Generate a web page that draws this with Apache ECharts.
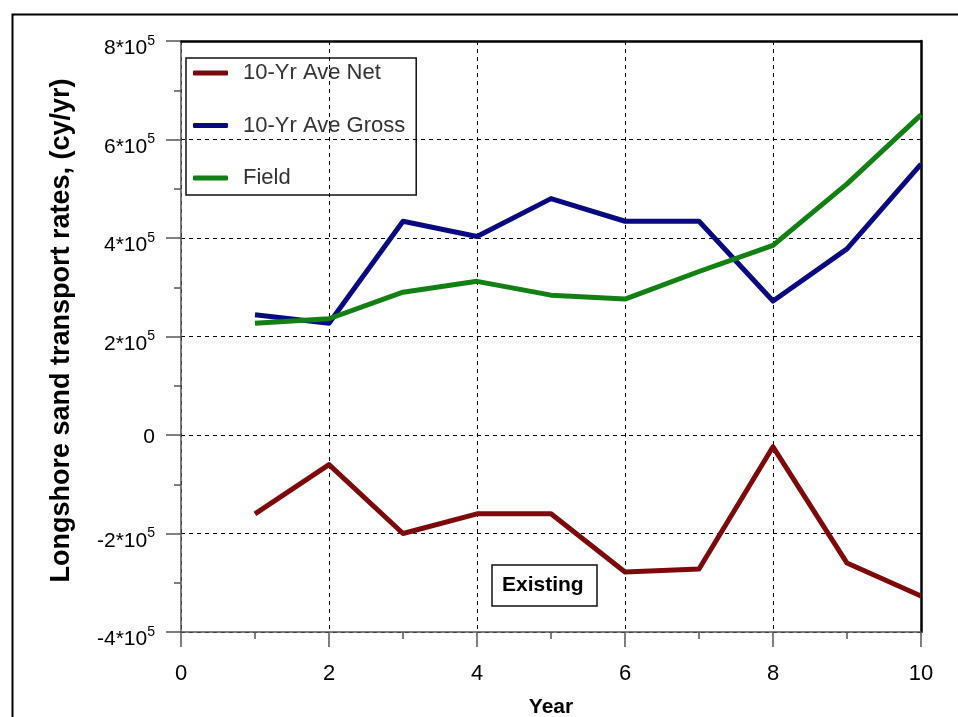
<!DOCTYPE html>
<html>
<head>
<meta charset="utf-8">
<script src="https://cdn.jsdelivr.net/npm/echarts@6/dist/echarts.min.js"></script>
<style>
  html, body { margin: 0; padding: 0; background: #fff; }
  #chart { width: 958px; height: 717px; }
</style>
</head>
<body>
<div id="chart"></div>
<script>
// ---- data ----
const years = [1, 2, 3, 4, 5, 6, 7, 8, 9, 10];
const netValues   = [-160000, -60000, -200000, -160000, -160000, -278000, -272000, -24000, -260000, -327000];
const grossValues = [244000, 227000, 434000, 403000, 480000, 434000, 434000, 272000, 378000, 550000];
const fieldValues = [227000, 236000, 290000, 312000, 284000, 276000, 332000, 385000, 510000, 650000];
const seriesNames = ['10-Yr Ave Net', '10-Yr Ave Gross', 'Field'];
const xTitle = 'Year';
const yTitle = 'Longshore sand transport rates, (cy/yr)';
const boxLabel = 'Existing';

const FONT = 'Arial, "Liberation Sans", Helvetica, sans-serif';
const pair = (xs, ys) => xs.map((x, i) => [x, ys[i]]);

function yLabel(v) {
  if (v === 0) return '{z|0}';
  return '{sp| }{b|' + (v / 1e5) + '*10}{sup|5}';
}

const chart = echarts.init(document.getElementById('chart'));
chart.setOption({
  animation: false,
  backgroundColor: '#fff',
  textStyle: { fontFamily: FONT },
  grid: { left: 181, right: 37, top: 41, bottom: 85, containLabel: false, outerBoundsMode: 'none' },
  graphic: [{
    type: 'rect', left: 10, top: 12, silent: true,
    shape: { width: 980, height: 740 },
    style: { fill: 'none', stroke: '#000', lineWidth: 2 }
  }],
  title: {
    text: boxLabel, left: 492, top: 565,
    padding: [10, 14, 10, 10],
    borderColor: '#111', borderWidth: 1.5,
    textStyle: { fontFamily: FONT, fontSize: 21, fontWeight: 'bold', color: '#000', lineHeight: 21 }
  },
  legend: {
    orient: 'vertical', left: 186, top: 58,
    padding: [3, 11, 5, 7],
    itemGap: 28.5, itemWidth: 35, itemHeight: 5,
    icon: 'roundRect',
    borderColor: '#111', borderWidth: 1.5,
    textStyle: { fontFamily: FONT, fontSize: 22, color: '#333', lineHeight: 24, padding: [0, 0, 0, 10] },
    data: seriesNames
  },
  xAxis: [{
    type: 'value', min: 0, max: 10, interval: 2,
    name: xTitle, nameLocation: 'middle', nameGap: 65,
    nameTextStyle: { fontFamily: FONT, fontSize: 21, fontWeight: 'bold', color: '#000' },
    axisLine: { onZero: false, lineStyle: { color: '#555', width: 1.5 } },
    axisTick: { show: true, length: 15, lineStyle: { color: '#555', width: 1.5 } },
    minorTick: { show: true, splitNumber: 2, length: 7, lineStyle: { color: '#555', width: 1.5 } },
    axisLabel: { margin: 31, fontFamily: FONT, fontSize: 22, color: '#000' },
    splitLine: { show: true, lineStyle: { color: '#000', type: [4, 4], width: 1 } }
  }, {
    type: 'value', min: 0, max: 10, position: 'top',
    axisLine: { show: true, onZero: false, lineStyle: { color: '#000', width: 2.5 } },
    axisTick: { show: false }, axisLabel: { show: false }, splitLine: { show: false }
  }],
  yAxis: [{
    type: 'value', min: -400000, max: 800000, interval: 200000,
    name: yTitle, nameLocation: 'middle', nameGap: 106,
    nameTextStyle: { fontFamily: FONT, fontSize: 27, fontWeight: 'bold', color: '#000', padding: [0, 0, 0, 12] },
    axisLine: { show: true, onZero: false, lineStyle: { color: '#555', width: 1.5 } },
    axisTick: { show: true, length: 15, lineStyle: { color: '#555', width: 1.5 } },
    minorTick: { show: true, splitNumber: 2, length: 7, lineStyle: { color: '#555', width: 1.5 } },
    axisLabel: {
      margin: 26, formatter: yLabel,
      rich: {
        sp: { fontFamily: FONT, fontSize: 1, lineHeight: 36 },
        z: { fontFamily: FONT, fontSize: 21, color: '#000', lineHeight: 18, padding: [4, 0, 0, 0] },
        b: { fontFamily: FONT, fontSize: 21, color: '#000', lineHeight: 18, verticalAlign: 'bottom' },
        sup: { fontFamily: FONT, fontSize: 14, color: '#000', lineHeight: 14, verticalAlign: 'middle' }
      }
    },
    splitLine: { show: true, lineStyle: { color: '#000', type: [4, 4], width: 1 } }
  }, {
    type: 'value', min: -400000, max: 800000, position: 'right',
    axisLine: { show: true, onZero: false, lineStyle: { color: '#000', width: 2.5 } },
    axisTick: { show: false }, axisLabel: { show: false }, splitLine: { show: false }
  }],
  series: [
    { name: seriesNames[0], type: 'line', data: pair(years, netValues), showSymbol: false, symbol: 'none',
      lineStyle: { color: '#7d0a0a', width: 5, join: 'round' }, itemStyle: { color: '#7d0a0a' }, z: 3 },
    { name: seriesNames[1], type: 'line', data: pair(years, grossValues), showSymbol: false, symbol: 'none',
      lineStyle: { color: '#0a0a80', width: 5, join: 'round' }, itemStyle: { color: '#0a0a80' }, z: 3 },
    { name: seriesNames[2], type: 'line', data: pair(years, fieldValues), showSymbol: false, symbol: 'none',
      lineStyle: { color: '#128012', width: 5, join: 'round' }, itemStyle: { color: '#128012' }, z: 4 }
  ]
});
</script>
</body>
</html>
